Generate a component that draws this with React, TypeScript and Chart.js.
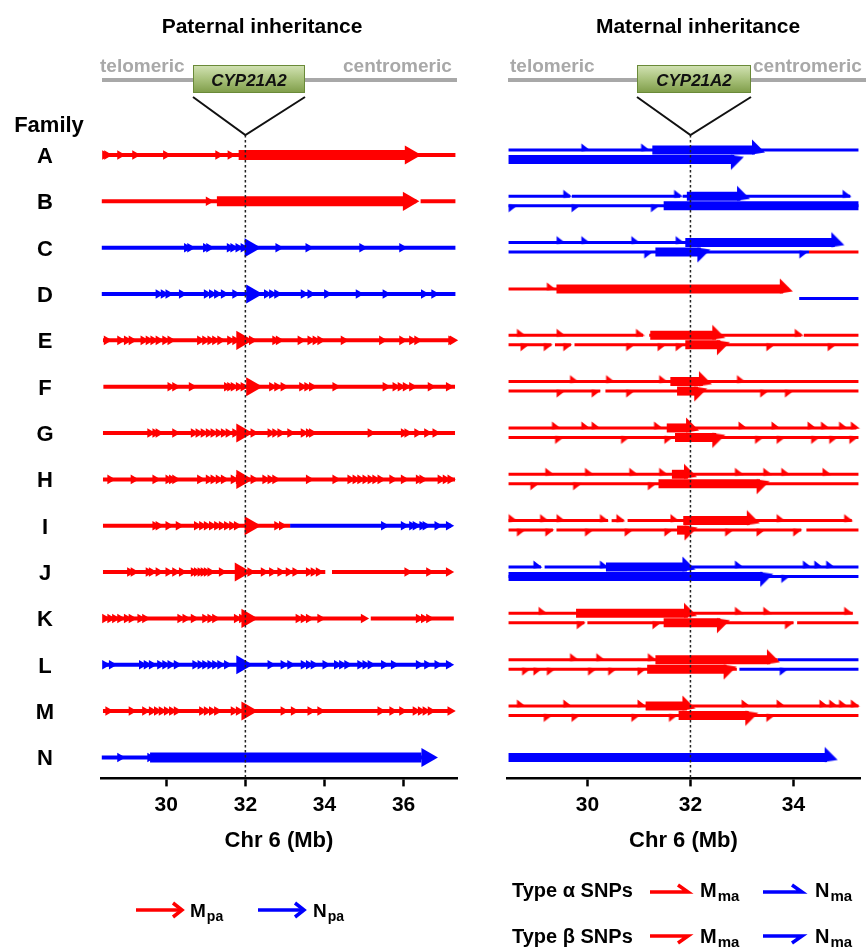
import React, { useEffect, useRef } from 'react';
import { Chart, registerables } from 'chart.js';

Chart.register(...registerables);

const FONT = '"Liberation Sans", Arial, Helvetica, sans-serif';
const HAP_COLORS: Record<string, string> = { M: '#ff0000', N: '#0000ff' };

// ---------------- data ----------------
const FAMILIES = ['A', 'B', 'C', 'D', 'E', 'F', 'G', 'H', 'I', 'J', 'K', 'L', 'M', 'N'];
const PAT_X_RANGE = [28.35, 37.35];
const MAT_X_RANGE = [28.44, 35.29];
const PAT_TICKS = [30, 32, 34, 36];
const MAT_TICKS = [30, 32, 34];
const Y_RANGE = [-0.432, 13.453];
const CYP21A2_MB = 32;

// Paternal haplotype tracks: [family, start Mb, end Mb, haplotype]
const PAT_TRACKS: [string, number, number, string][] = [
  ['A', 28.45, 37.31, 'M'],
  ['B', 28.37, 36.32, 'M'], ['B', 36.43, 37.31, 'M'],
  ['C', 28.37, 37.31, 'N'],
  ['D', 28.37, 37.31, 'N'],
  ['E', 28.4, 37.25, 'M'],
  ['F', 28.41, 37.3, 'M'],
  ['G', 28.4, 37.3, 'M'],
  ['H', 28.4, 37.3, 'M'],
  ['I', 28.4, 33.13, 'M'], ['I', 33.13, 37.2, 'N'],
  ['J', 28.4, 34.02, 'M'], ['J', 34.19, 37.2, 'M'],
  ['K', 28.4, 35.02, 'M'], ['K', 35.17, 37.27, 'M'],
  ['L', 28.4, 37.2, 'N'],
  ['M', 28.4, 37.22, 'M'],
  ['N', 28.37, 36.6, 'N'],
];
// Paternal shared blocks (thick)
const PAT_BLOCKS: [string, number, number, string][] = [
  ['A', 31.83, 36.05, 'M'],
  ['B', 31.28, 36.0, 'M'],
  ['N', 29.59, 36.45, 'N'],
];
// Paternal SNP arrows
const PAT_SNPS: [string, number[]][] = [
  ['A', [28.45, 28.5, 28.83, 29.21, 29.99, 31.31, 31.62]],
  ['B', [31.07]],
  ['C', [30.52, 30.6, 31.0, 31.08, 31.6, 31.69, 31.82, 31.95, 32.83, 33.59, 34.95, 35.96]],
  ['D', [29.8, 29.93, 30.05, 30.39, 31.02, 31.15, 31.28, 31.45, 31.74, 32.54, 32.67, 32.8, 33.47, 33.64, 34.06, 34.86, 35.54, 36.51, 36.77]],
  ['E', [28.49, 28.83, 29.0, 29.12, 29.42, 29.55, 29.67, 29.8, 29.97, 30.1, 30.85, 30.98, 31.11, 31.23, 31.36, 31.61, 31.74, 32.16, 32.75, 32.84, 33.39, 33.64, 33.77, 33.89, 34.48, 35.45, 35.96, 36.21, 36.34, 37.2, 37.24]],
  ['F', [30.1, 30.22, 30.64, 31.53, 31.61, 31.7, 31.83, 31.95, 32.67, 32.8, 32.96, 33.43, 33.56, 33.68, 34.27, 35.54, 35.79, 35.92, 36.05, 36.21, 36.68, 37.14]],
  ['G', [29.59, 29.72, 29.8, 30.22, 30.69, 30.81, 30.94, 31.07, 31.19, 31.32, 31.45, 31.57, 31.74, 32.2, 32.63, 32.75, 32.88, 33.13, 33.47, 33.6, 33.68, 35.16, 36.0, 36.09, 36.34, 36.59, 36.8]],
  ['H', [28.58, 29.17, 29.72, 30.05, 30.14, 30.22, 30.85, 31.07, 31.19, 31.32, 31.45, 31.7, 31.83, 32.2, 32.5, 32.63, 32.75, 33.6, 34.27, 34.65, 34.78, 34.9, 35.03, 35.16, 35.28, 35.41, 35.71, 36.0, 36.38, 36.47, 36.93, 37.06, 37.18]],
  ['I', [29.72, 29.8, 30.05, 30.31, 30.77, 30.9, 31.02, 31.15, 31.28, 31.4, 31.53, 31.66, 31.78, 32.8, 32.92, 35.5, 36.0, 36.21, 36.3, 36.47, 36.55, 36.85, 37.14]],
  ['J', [29.08, 29.17, 29.55, 29.63, 29.8, 30.05, 30.22, 30.39, 30.69, 30.77, 30.86, 30.94, 31.02, 31.11, 31.4, 32.12, 32.46, 32.67, 32.88, 33.09, 33.26, 33.6, 33.72, 33.85, 36.09, 36.64, 37.14]],
  ['K', [28.45, 28.58, 28.7, 28.83, 29.0, 29.12, 29.34, 29.46, 30.35, 30.48, 30.69, 30.98, 31.11, 31.23, 31.78, 31.91, 33.34, 33.47, 33.6, 33.89, 34.99, 36.38, 36.51, 36.64]],
  ['L', [28.45, 28.62, 29.38, 29.5, 29.63, 29.84, 29.97, 30.1, 30.26, 30.73, 30.86, 30.98, 31.11, 31.23, 31.36, 31.53, 32.63, 32.96, 33.13, 33.47, 33.6, 33.72, 34.02, 34.31, 34.44, 34.57, 34.9, 35.03, 35.16, 35.5, 35.75, 36.38, 36.59, 36.85, 37.14]],
  ['M', [28.53, 29.12, 29.46, 29.63, 29.76, 29.88, 30.01, 30.14, 30.26, 30.9, 31.02, 31.15, 31.28, 31.7, 31.83, 32.96, 33.22, 33.64, 33.89, 35.41, 35.71, 35.96, 36.3, 36.43, 36.55, 36.68, 37.18]],
  ['N', [28.83, 29.59]],
];
// Paternal large arrows
const PAT_BIG: [string, number][] = [
  ['A', 36.17], ['B', 36.12], ['C', 32.12], ['D', 32.16], ['E', 31.91], ['F', 32.16], ['G', 31.91],
  ['H', 31.91], ['I', 32.12], ['J', 31.87], ['K', 32.04], ['L', 31.91], ['M', 32.04], ['N', 36.59],
];

// Maternal tracks: [family, SNP type (a = alpha, b = beta, c = single), start, end, haplotype]
const MAT_TRACKS: [string, string, number, number, string][] = [
  ['A', 'a', 28.47, 35.26, 'N'],
  ['B', 'a', 28.47, 29.66, 'N'], ['B', 'a', 29.7, 31.8, 'N'], ['B', 'a', 31.85, 35.1, 'N'], ['B', 'b', 28.47, 35.26, 'N'],
  ['C', 'a', 28.47, 34.9, 'N'], ['C', 'b', 28.47, 34.3, 'N'], ['C', 'b', 34.3, 35.26, 'M'],
  ['D', 'a', 28.47, 33.9, 'M'], ['D', 'b', 34.11, 35.26, 'N'],
  ['E', 'a', 28.47, 31.08, 'M'], ['E', 'a', 31.2, 34.15, 'M'], ['E', 'a', 34.2, 35.26, 'M'],
  ['E', 'b', 28.47, 29.3, 'M'], ['E', 'b', 29.37, 29.68, 'M'], ['E', 'b', 29.75, 35.26, 'M'],
  ['F', 'a', 28.47, 35.26, 'M'], ['F', 'b', 28.47, 30.25, 'M'], ['F', 'b', 30.35, 35.26, 'M'],
  ['G', 'a', 28.47, 35.22, 'M'], ['G', 'b', 28.47, 35.26, 'M'],
  ['H', 'a', 28.47, 35.26, 'M'], ['H', 'b', 28.47, 35.26, 'M'],
  ['I', 'a', 28.47, 30.4, 'M'], ['I', 'a', 30.47, 30.7, 'M'], ['I', 'a', 30.78, 35.13, 'M'],
  ['I', 'b', 28.47, 29.33, 'M'], ['I', 'b', 29.4, 34.15, 'M'], ['I', 'b', 34.25, 35.26, 'M'],
  ['J', 'a', 28.47, 29.1, 'N'], ['J', 'a', 29.17, 35.26, 'N'], ['J', 'b', 28.47, 35.26, 'N'],
  ['K', 'a', 28.47, 35.15, 'M'], ['K', 'b', 28.47, 29.94, 'M'], ['K', 'b', 30.0, 34.0, 'M'], ['K', 'b', 34.07, 35.26, 'M'],
  ['L', 'a', 28.47, 33.69, 'M'], ['L', 'a', 33.69, 35.26, 'N'], ['L', 'b', 28.47, 32.9, 'M'], ['L', 'b', 32.95, 35.26, 'N'],
  ['M', 'a', 28.47, 35.26, 'M'], ['M', 'b', 28.47, 35.26, 'M'],
];
// Maternal shared blocks (thick)
const MAT_BLOCKS: [string, string, number, number, string][] = [
  ['A', 'a', 31.26, 33.25, 'N'], ['A', 'b', 28.47, 32.85, 'N'],
  ['B', 'a', 31.93, 32.97, 'N'], ['B', 'b', 31.48, 35.26, 'N'],
  ['C', 'a', 31.9, 34.8, 'N'], ['C', 'b', 31.32, 32.2, 'N'],
  ['D', 'a', 29.4, 33.8, 'M'],
  ['E', 'a', 31.22, 32.5, 'M'], ['E', 'b', 31.9, 32.58, 'M'],
  ['F', 'a', 31.61, 32.24, 'M'], ['F', 'b', 31.74, 32.15, 'M'],
  ['G', 'a', 31.54, 32.0, 'M'], ['G', 'b', 31.7, 32.5, 'M'],
  ['H', 'a', 31.64, 31.95, 'M'], ['H', 'b', 31.38, 33.35, 'M'],
  ['I', 'a', 31.86, 33.15, 'M'], ['I', 'b', 31.74, 31.97, 'M'],
  ['J', 'a', 30.36, 31.93, 'N'], ['J', 'b', 28.47, 33.4, 'N'],
  ['K', 'a', 29.78, 31.95, 'M'], ['K', 'b', 31.48, 32.58, 'M'],
  ['L', 'a', 31.32, 33.55, 'M'], ['L', 'b', 31.16, 32.7, 'M'],
  ['M', 'a', 31.13, 31.93, 'M'], ['M', 'b', 31.77, 33.13, 'M'],
  ['N', 'c', 28.47, 34.65, 'N'],
];
// Maternal type alpha SNPs
const MAT_ALPHA_SNPS: [string, number[]][] = [
  ['A', [29.97, 31.13]],
  ['B', [29.62, 31.77, 35.04]],
  ['C', [29.49, 29.97, 30.94, 31.8]],
  ['D', [29.3]],
  ['E', [28.72, 29.49, 31.03, 34.11]],
  ['F', [29.75, 30.45, 31.48, 32.99]],
  ['G', [29.4, 29.97, 30.17, 31.38, 33.02, 33.66, 34.36, 34.62, 34.97, 35.2]],
  ['H', [29.27, 30.04, 30.9, 31.48, 32.95, 33.5, 33.85, 34.65]],
  ['I', [28.56, 29.17, 29.49, 30.33, 30.65, 31.7, 33.76, 35.07]],
  ['J', [29.04, 30.33, 32.95, 34.27, 34.49, 34.72]],
  ['K', [29.14, 32.95, 33.5, 35.07]],
  ['L', [29.75, 30.26, 31.26]],
  ['M', [28.72, 29.62, 31.06, 33.08, 33.76, 34.59, 34.78, 34.97, 35.2]],
];
// Maternal type beta SNPs
const MAT_BETA_SNPS: [string, number[]][] = [
  ['B', [28.56, 29.78, 31.32]],
  ['C', [31.19, 34.2]],
  ['E', [28.79, 29.24, 29.62, 30.84, 31.45, 31.8, 33.56, 34.75]],
  ['F', [29.49, 30.17, 30.84, 33.44, 33.92]],
  ['G', [29.46, 30.74, 31.58, 33.34, 33.76, 34.43, 34.78, 35.17]],
  ['H', [28.98, 29.81, 31.26]],
  ['I', [28.72, 29.27, 30.04, 30.81, 31.58, 32.76, 33.37, 34.08]],
  ['J', [33.85]],
  ['K', [29.88, 31.35, 33.92]],
  ['L', [28.82, 29.04, 29.3, 30.1, 30.49, 31.06, 33.82]],
  ['M', [29.24, 29.78, 30.94, 31.67, 33.56]],
];
// Maternal large half-arrows: [family, type, position]
const MAT_BIG: [string, string, number][] = [
  ['A', 'a', 33.31], ['A', 'b', 32.9], ['B', 'a', 33.02], ['C', 'a', 34.85], ['C', 'b', 32.25],
  ['D', 'a', 33.85], ['E', 'a', 32.54], ['E', 'b', 32.63], ['F', 'a', 32.28], ['F', 'b', 32.19],
  ['G', 'a', 32.03], ['G', 'b', 32.54], ['H', 'a', 31.99], ['H', 'b', 33.4], ['I', 'a', 33.21],
  ['I', 'b', 32.0], ['J', 'a', 31.96], ['J', 'b', 33.47], ['K', 'a', 31.99], ['K', 'b', 32.63],
  ['L', 'a', 33.6], ['L', 'b', 32.76], ['M', 'a', 31.96], ['M', 'b', 33.18], ['N', 'c', 34.72],
];

// ---------------- helpers ----------------
const rowOf = (f: string) => FAMILIES.indexOf(f);
const STRAND_OFFSET: Record<string, number> = { a: -0.11, b: 0.095, c: 0 };

function patHap(f: string, x: number): string {
  const blk = PAT_BLOCKS.find((t) => t[0] === f && x >= t[1] - 0.2 && x <= t[2] + 0.3);
  if (blk) return blk[3];
  const tr = PAT_TRACKS.filter((t) => t[0] === f);
  const hit = tr.find((t) => x >= t[1] && x <= t[2]);
  if (hit) return hit[3];
  let best = tr[0];
  let d = Infinity;
  for (const t of tr) {
    const dd = Math.min(Math.abs(x - t[1]), Math.abs(x - t[2]));
    if (dd < d) { d = dd; best = t; }
  }
  return best ? best[3] : 'M';
}

function matHap(f: string, s: string, x: number): string {
  const blk = MAT_BLOCKS.find((t) => t[0] === f && t[1] === s && x >= t[2] - 0.2 && x <= t[3] + 0.3);
  if (blk) return blk[4];
  const tr = MAT_TRACKS.filter((t) => t[0] === f && t[1] === s);
  const hit = tr.find((t) => x >= t[2] && x <= t[3]);
  if (hit) return hit[4];
  let best = tr[0];
  let d = Infinity;
  for (const t of tr) {
    const dd = Math.min(Math.abs(x - t[2]), Math.abs(x - t[3]));
    if (dd < d) { d = dd; best = t; }
  }
  return best ? best[4] : 'M';
}

function makeHalfArrow(color: string, up: boolean, big: boolean): HTMLCanvasElement {
  const poly = big
    ? [[7, 2.5], [-6, -10.5], [-6, 4.5]]
    : [[4.5, 0.5], [-4.5, -6.5], [-4.5, 1.5]];
  const pts = poly.map(([x, y]) => [x, up ? y : -y]);
  const hw = Math.ceil(Math.max(...pts.map((p) => Math.abs(p[0])))) + 1;
  const hh = Math.ceil(Math.max(...pts.map((p) => Math.abs(p[1])))) + 1;
  const c = document.createElement('canvas');
  c.width = hw * 2;
  c.height = hh * 2;
  const ctx = c.getContext('2d')!;
  ctx.translate(hw, hh);
  ctx.fillStyle = color;
  ctx.beginPath();
  pts.forEach(([x, y], i) => (i ? ctx.lineTo(x, y) : ctx.moveTo(x, y)));
  ctx.closePath();
  ctx.fill();
  return c;
}

function segDs(f: number, s: number, e: number, color: string, width: number): any {
  return {
    data: [{ x: s, y: f }, { x: e, y: f }],
    showLine: true,
    borderColor: color,
    borderWidth: width,
    borderCapStyle: 'butt',
    pointRadius: 0,
    pointHoverRadius: 0,
    order: width > 5 ? 2 : 3,
    clip: false,
  };
}

// ---------------- decorations ----------------
type Decor = {
  title: string;
  titleX: number;
  lineX0: number;
  lineX1: number;
  telX: number;
  cenX: number;
  boxX0: number;
  boxX1: number;
  family: boolean;
  legend: 'pat' | 'mat';
};

function subText(ctx: CanvasRenderingContext2D, main: string, sub: string, x: number, y: number, size: number) {
  ctx.textAlign = 'left';
  ctx.textBaseline = 'alphabetic';
  ctx.font = `bold ${size}px ${FONT}`;
  ctx.fillStyle = '#000';
  ctx.fillText(main, x, y);
  const w = ctx.measureText(main).width;
  ctx.font = `bold ${Math.round(size * 0.75)}px ${FONT}`;
  ctx.fillText(sub, x + w + 1, y + 4);
}

function arrowGlyph(ctx: CanvasRenderingContext2D, x0: number, x1: number, y: number, color: string) {
  ctx.strokeStyle = color;
  ctx.lineWidth = 3.5;
  ctx.lineCap = 'butt';
  ctx.lineJoin = 'miter';
  ctx.beginPath();
  ctx.moveTo(x0, y);
  ctx.lineTo(x1 - 2, y);
  ctx.stroke();
  ctx.beginPath();
  ctx.moveTo(x1 - 9, y - 7);
  ctx.lineTo(x1, y);
  ctx.lineTo(x1 - 9, y + 7);
  ctx.stroke();
}

function harpoonGlyph(ctx: CanvasRenderingContext2D, x0: number, x1: number, y: number, color: string, up: boolean) {
  ctx.strokeStyle = color;
  ctx.lineWidth = 3.5;
  ctx.lineCap = 'butt';
  ctx.lineJoin = 'miter';
  ctx.beginPath();
  ctx.moveTo(x0, y);
  ctx.lineTo(x1, y);
  ctx.lineTo(x1 - 10, y + (up ? -7 : 7));
  ctx.stroke();
}

function decorPlugin(d: Decor) {
  return {
    id: 'decor',
    afterDatasetsDraw(chart: any) {
      const { ctx, chartArea, scales } = chart;
      const x = scales.x.getPixelForValue(CYP21A2_MB);
      ctx.save();
      ctx.strokeStyle = '#222';
      ctx.lineWidth = 1.5;
      ctx.setLineDash([2.5, 2.5]);
      ctx.beginPath();
      ctx.moveTo(x, chartArea.top);
      ctx.lineTo(x, chartArea.bottom);
      ctx.stroke();
      ctx.restore();
    },
    afterDraw(chart: any) {
      const { ctx, chartArea, scales } = chart;
      const xc = scales.x.getPixelForValue(CYP21A2_MB);
      ctx.save();
      // title
      ctx.fillStyle = '#000';
      ctx.font = `bold 21px ${FONT}`;
      ctx.textAlign = 'center';
      ctx.textBaseline = 'alphabetic';
      ctx.fillText(d.title, d.titleX, 33);
      // chromosome line
      ctx.strokeStyle = '#a8a8a8';
      ctx.lineWidth = 4;
      ctx.beginPath();
      ctx.moveTo(d.lineX0, 80);
      ctx.lineTo(d.lineX1, 80);
      ctx.stroke();
      ctx.fillStyle = '#a8a8a8';
      ctx.font = `bold 19px ${FONT}`;
      ctx.textAlign = 'left';
      ctx.fillText('telomeric', d.telX, 72);
      ctx.fillText('centromeric', d.cenX, 72);
      // gene box
      const g = ctx.createLinearGradient(0, 65, 0, 93);
      g.addColorStop(0, '#d3e3b5');
      g.addColorStop(0.5, '#a9c27c');
      g.addColorStop(1, '#7e9c48');
      ctx.fillStyle = g;
      ctx.fillRect(d.boxX0, 65, d.boxX1 - d.boxX0, 28);
      ctx.strokeStyle = '#6a8a38';
      ctx.lineWidth = 1;
      ctx.strokeRect(d.boxX0 + 0.5, 65.5, d.boxX1 - d.boxX0 - 1, 27);
      ctx.fillStyle = '#111';
      ctx.font = `italic bold 17px ${FONT}`;
      ctx.textAlign = 'center';
      ctx.fillText('CYP21A2', (d.boxX0 + d.boxX1) / 2, 86);
      // zoom lines
      ctx.strokeStyle = '#111';
      ctx.lineWidth = 2;
      ctx.beginPath();
      ctx.moveTo(d.boxX0, 97);
      ctx.lineTo(xc, chartArea.top);
      ctx.lineTo(d.boxX1, 97);
      ctx.stroke();
      // family labels
      if (d.family) {
        ctx.fillStyle = '#000';
        ctx.font = `bold 22px ${FONT}`;
        ctx.textAlign = 'center';
        ctx.fillText('Family', 49, 132);
        FAMILIES.forEach((f, i) => {
          ctx.fillText(f, 45, scales.y.getPixelForValue(i) + 8);
        });
      }
      // legend
      if (d.legend === 'pat') {
        arrowGlyph(ctx, 136, 182, 910, HAP_COLORS.M);
        subText(ctx, 'M', 'pa', 190, 917, 19);
        arrowGlyph(ctx, 258, 304, 910, HAP_COLORS.N);
        subText(ctx, 'N', 'pa', 313, 917, 19);
      } else {
        ctx.fillStyle = '#000';
        ctx.font = `bold 20px ${FONT}`;
        ctx.textAlign = 'left';
        ctx.fillText('Type \u03b1 SNPs', 32, 897);
        ctx.fillText('Type \u03b2 SNPs', 32, 943);
        harpoonGlyph(ctx, 170, 208, 892, HAP_COLORS.M, true);
        subText(ctx, 'M', 'ma', 220, 897, 20);
        harpoonGlyph(ctx, 283, 322, 892, HAP_COLORS.N, true);
        subText(ctx, 'N', 'ma', 335, 897, 20);
        harpoonGlyph(ctx, 170, 208, 936, HAP_COLORS.M, false);
        subText(ctx, 'M', 'ma', 220, 943, 20);
        harpoonGlyph(ctx, 283, 322, 936, HAP_COLORS.N, false);
        subText(ctx, 'N', 'ma', 335, 943, 20);
      }
      ctx.restore();
    },
  };
}

function xScale(range: number[], ticks: number[]): any {
  return {
    type: 'linear',
    min: range[0],
    max: range[1],
    afterBuildTicks: (ax: any) => {
      ax.ticks = ticks.map((v) => ({ value: v }));
    },
    grid: { display: true, drawOnChartArea: false, drawTicks: true, tickLength: 8, tickWidth: 2.5, tickColor: '#000' },
    border: { display: true, color: '#000', width: 2.5 },
    ticks: { color: '#000', padding: 6, maxRotation: 0, font: { family: FONT, size: 21, weight: 'bold' } },
    title: {
      display: true,
      text: 'Chr 6 (Mb)',
      color: '#000',
      padding: { top: 4, bottom: 0 },
      font: { family: FONT, size: 22, weight: 'bold' },
    },
  };
}

function baseOptions(range: number[], ticks: number[], padding: any): any {
  return {
    responsive: false,
    animation: false,
    events: [],
    layout: { padding },
    plugins: { legend: { display: false }, tooltip: { enabled: false } },
    scales: {
      x: xScale(range, ticks),
      y: { type: 'linear', display: false, reverse: true, min: Y_RANGE[0], max: Y_RANGE[1] },
    },
  };
}

function buildPaternal(): any {
  const datasets: any[] = [];
  const small: Record<string, any[]> = { M: [], N: [] };
  PAT_SNPS.forEach(([f, xs]) => xs.forEach((x) => small[patHap(f, x)].push({ x, y: rowOf(f) })));
  const big: Record<string, any[]> = { M: [], N: [] };
  PAT_BIG.forEach(([f, x]) => big[patHap(f, x)].push({ x, y: rowOf(f) }));
  for (const h of ['M', 'N']) {
    datasets.push({
      data: big[h], pointStyle: 'triangle', pointRotation: 90, pointRadius: 11,
      pointBackgroundColor: HAP_COLORS[h], pointBorderColor: HAP_COLORS[h], pointBorderWidth: 0, order: 0, clip: false,
    });
    datasets.push({
      data: small[h], pointStyle: 'triangle', pointRotation: 90, pointRadius: 5.5,
      pointBackgroundColor: HAP_COLORS[h], pointBorderColor: HAP_COLORS[h], pointBorderWidth: 0, order: 1, clip: false,
    });
  }
  PAT_BLOCKS.forEach(([f, s, e, h]) => datasets.push(segDs(rowOf(f), s, e, HAP_COLORS[h], 10)));
  PAT_TRACKS.forEach(([f, s, e, h]) => datasets.push(segDs(rowOf(f), s, e, HAP_COLORS[h], 4)));
  return {
    type: 'scatter',
    data: { datasets },
    options: baseOptions(PAT_X_RANGE, PAT_TICKS, { left: 101, right: 23, top: 135, bottom: 93 }),
    plugins: [decorPlugin({
      title: 'Paternal inheritance', titleX: 262, lineX0: 102, lineX1: 457, telX: 100, cenX: 343,
      boxX0: 193, boxX1: 305, family: true, legend: 'pat',
    })],
  };
}

function buildMaternal(): any {
  const datasets: any[] = [];
  const groups: Record<string, any[]> = {};
  const add = (key: string, pt: any) => { (groups[key] = groups[key] || []).push(pt); };
  MAT_ALPHA_SNPS.forEach(([f, xs]) => xs.forEach((x) => add(`${matHap(f, 'a', x)}|a|s`, { x, y: rowOf(f) + STRAND_OFFSET.a })));
  MAT_BETA_SNPS.forEach(([f, xs]) => xs.forEach((x) => add(`${matHap(f, 'b', x)}|b|s`, { x, y: rowOf(f) + STRAND_OFFSET.b })));
  MAT_BIG.forEach(([f, s, x]) => add(`${matHap(f, s, x)}|${s === 'b' ? 'b' : 'a'}|b`, { x, y: rowOf(f) + STRAND_OFFSET[s] }));
  Object.keys(groups).forEach((key) => {
    const [h, s, size] = key.split('|');
    datasets.push({
      data: groups[key],
      pointStyle: makeHalfArrow(HAP_COLORS[h], s === 'a', size === 'b'),
      pointRadius: 5,
      order: size === 'b' ? 0 : 1,
      clip: false,
    });
  });
  MAT_BLOCKS.forEach(([f, s, a, e, h]) => datasets.push(segDs(rowOf(f) + STRAND_OFFSET[s], a, e, HAP_COLORS[h], 9)));
  MAT_TRACKS.forEach(([f, s, a, e, h]) => datasets.push(segDs(rowOf(f) + STRAND_OFFSET[s], a, e, HAP_COLORS[h], 3)));
  return {
    type: 'scatter',
    data: { datasets },
    options: baseOptions(MAT_X_RANGE, MAT_TICKS, { left: 27, right: 3, top: 135, bottom: 93 }),
    plugins: [decorPlugin({
      title: 'Maternal inheritance', titleX: 218, lineX0: 28, lineX1: 386, telX: 30, cenX: 273,
      boxX0: 157, boxX1: 271, family: false, legend: 'mat',
    })],
  };
}

export default function App() {
  const patRef = useRef<HTMLCanvasElement>(null);
  const matRef = useRef<HTMLCanvasElement>(null);
  useEffect(() => {
    const c1 = new Chart(patRef.current as HTMLCanvasElement, buildPaternal());
    const c2 = new Chart(matRef.current as HTMLCanvasElement, buildMaternal());
    return () => {
      c1.destroy();
      c2.destroy();
    };
  }, []);
  return (
    <div style={{ position: 'absolute', left: 0, top: 0, width: 866, height: 947, background: '#fff' }}>
      <canvas ref={patRef} width={480} height={947} style={{ position: 'absolute', left: 0, top: 0, width: 480, height: 947 }} />
      <canvas ref={matRef} width={386} height={947} style={{ position: 'absolute', left: 480, top: 0, width: 386, height: 947 }} />
    </div>
  );
}
